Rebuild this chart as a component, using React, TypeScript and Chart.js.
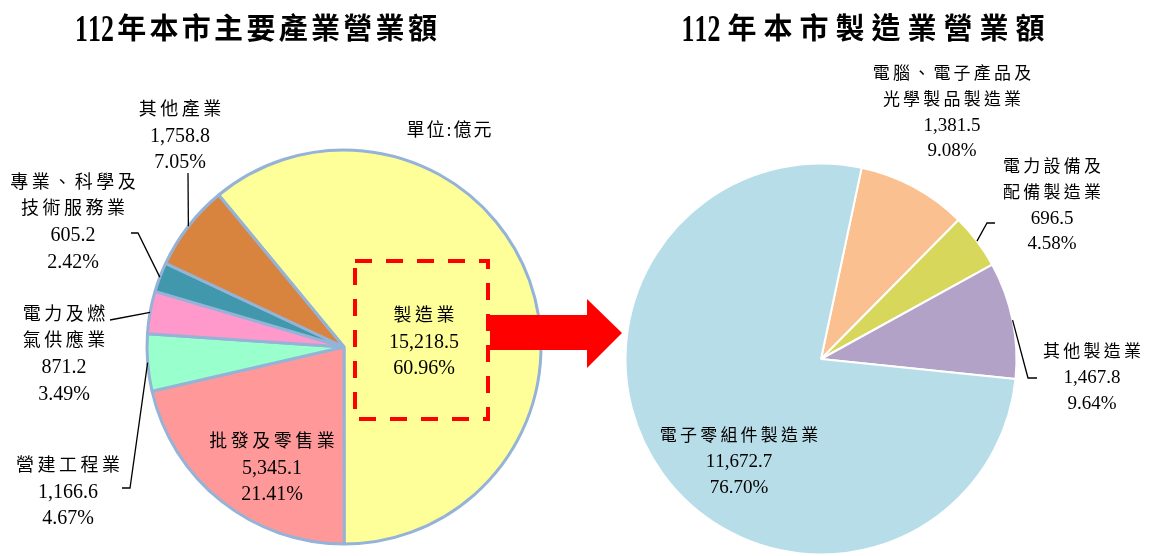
import React, { useEffect, useRef } from 'react';
import { Chart, registerables } from 'chart.js';

Chart.register(...registerables);

// ---------- data ----------
const mainCategories = ['製造業', '批發及零售業', '營建工程業', '電力及燃氣供應業', '專業、科學及技術服務業', '其他產業'];
const mainValues = [15218.5, 5345.1, 1166.6, 871.2, 605.2, 1758.8];
const mainPercents = ['60.96%', '21.41%', '4.67%', '3.49%', '2.42%', '7.05%'];
const mainLabelLines = [['製造業'], ['批發及零售業'], ['營建工程業'], ['電力及燃', '氣供應業'], ['專業、科學及', '技術服務業'], ['其他產業']];
const mainColors = ['#ffff99', '#ff9999', '#99ffcc', '#ff99cc', '#4198ad', '#d9843e'];

const mfgCategories = ['電腦、電子產品及光學製品製造業', '電力設備及配備製造業', '其他製造業', '電子零組件製造業'];
const mfgValues = [1381.5, 696.5, 1467.8, 11672.7];
const mfgPercents = ['9.08%', '4.58%', '9.64%', '76.70%'];
const mfgLabelLines = [['電腦、電子產品及', '光學製品製造業'], ['電力設備及', '配備製造業'], ['其他製造業'], ['電子零組件製造業']];
const mfgColors = ['#fac090', '#d7d75b', '#b3a2c7', '#b7dde8'];

const mainTitle = '112年本市主要產業營業額';
const mfgTitle = '112年本市製造業營業額';
const unitText = '單位:億元';

// ---------- layout ----------
type LabelPos = { x: number; y: number; leader?: number[][] };
const mainLabelLayout: LabelPos[] = [
  { x: 424, y: 316 },
  { x: 272, y: 442 },
  { x: 68, y: 466, leader: [[130, 488], [122, 488]] },
  { x: 64, y: 315, leader: [[110, 320]] },
  { x: 73, y: 183, leader: [[138, 233], [131, 233]] },
  { x: 180, y: 110, leader: [[188, 173]] },
];
const mfgLabelLayout: LabelPos[] = [
  { x: 352, y: 75 },
  { x: 452, y: 168, leader: [[387, 223], [395, 223]] },
  { x: 492, y: 353, leader: [[428, 378], [437, 378]] },
  { x: 139, y: 437 },
];

const SERIF = "'Liberation Serif', 'Noto Sans CJK TC', serif";
const fmt = new Intl.NumberFormat('en-US', { minimumFractionDigits: 1, maximumFractionDigits: 1 });

const isCJK = (c: string) => c.charCodeAt(0) > 0x2000;

function drawSpaced(ctx: CanvasRenderingContext2D, text: string, cx: number, y: number, spacing: number) {
  const chars = Array.from(text);
  const widths = chars.map((c) => ctx.measureText(c).width);
  const gaps = chars.map((c, i) => (i < chars.length - 1 && (isCJK(c) || isCJK(chars[i + 1])) ? spacing : 0));
  const total = widths.reduce((a, b) => a + b, 0) + gaps.reduce((a, b) => a + b, 0);
  let x = cx - total / 2;
  ctx.textAlign = 'left';
  ctx.textBaseline = 'middle';
  chars.forEach((c, i) => {
    ctx.fillText(c, x, y);
    x += widths[i] + gaps[i];
  });
}

// title: tall condensed digits + bold CJK
function drawTitle(ctx: CanvasRenderingContext2D, text: string, cx: number, y: number, spacing: number) {
  const chars = Array.from(text);
  const digitScale = 0.68;
  const digitFont = `bold 38px ${SERIF}`;
  const cjkFont = `bold 29px ${SERIF}`;
  const widths = chars.map((c) => {
    if (isCJK(c)) {
      ctx.font = cjkFont;
      return ctx.measureText(c).width;
    }
    ctx.font = digitFont;
    return ctx.measureText(c).width * digitScale;
  });
  const gaps = chars.map((c, i) => (i < chars.length - 1 && (isCJK(c) || isCJK(chars[i + 1])) ? spacing : 0));
  const total = widths.reduce((a, b) => a + b, 0) + gaps.reduce((a, b) => a + b, 0);
  let x = cx - total / 2;
  ctx.textAlign = 'left';
  ctx.textBaseline = 'alphabetic';
  chars.forEach((c, i) => {
    if (isCJK(c)) {
      ctx.font = cjkFont;
      ctx.fillText(c, x, y + 11);
    } else {
      ctx.font = digitFont;
      ctx.save();
      ctx.translate(x, y + 13);
      ctx.scale(digitScale, 1);
      ctx.fillText(c, 0, 0);
      ctx.restore();
    }
    x += widths[i] + gaps[i];
  });
}

function makeLabelPlugin(
  id: string,
  values: number[],
  percents: string[],
  lines: string[][],
  layout: LabelPos[],
  opts: { cjkSize: number; numSize: number; spacing: number; lineH: number; title: string; titleX: number; titleSpacing: number; extra?: (ctx: CanvasRenderingContext2D) => void }
) {
  return {
    id,
    afterDraw(chart: any) {
      const ctx: CanvasRenderingContext2D = chart.ctx;
      const meta = chart.getDatasetMeta(0);
      ctx.save();
      ctx.fillStyle = '#000';
      drawTitle(ctx, opts.title, opts.titleX, 28, opts.titleSpacing);

      if (opts.extra) opts.extra(ctx);

      // leaders
      ctx.strokeStyle = '#000';
      ctx.lineWidth = 1.3;
      ctx.setLineDash([]);
      meta.data.forEach((arc: any, i: number) => {
        const lp = layout[i];
        if (!lp.leader) return;
        const p = arc.getProps(['x', 'y', 'startAngle', 'endAngle', 'outerRadius'], true);
        const mid = (p.startAngle + p.endAngle) / 2;
        const sx = p.x + Math.cos(mid) * p.outerRadius;
        const sy = p.y + Math.sin(mid) * p.outerRadius;
        ctx.beginPath();
        ctx.moveTo(sx, sy);
        lp.leader.forEach((pt) => ctx.lineTo(pt[0], pt[1]));
        ctx.stroke();
      });

      // labels
      ctx.fillStyle = '#000';
      values.forEach((v, i) => {
        const lp = layout[i];
        let y = lp.y;
        lines[i].forEach((ln) => {
          ctx.font = `${opts.cjkSize}px ${SERIF}`;
          drawSpaced(ctx, ln, lp.x, y, opts.spacing);
          y += opts.lineH;
        });
        ctx.font = `${opts.numSize}px ${SERIF}`;
        drawSpaced(ctx, fmt.format(v), lp.x, y, 0);
        y += opts.lineH;
        drawSpaced(ctx, percents[i], lp.x, y, 0);
      });
      ctx.restore();
    },
  };
}

export default function App() {
  const leftRef = useRef<HTMLCanvasElement>(null);
  const rightRef = useRef<HTMLCanvasElement>(null);

  useEffect(() => {
    document.body.style.margin = '0';
    const leftPlugin = makeLabelPlugin('mainLabels', mainValues, mainPercents, mainLabelLines, mainLabelLayout, {
      cjkSize: 18,
      numSize: 20,
      spacing: 3.5,
      lineH: 26.5,
      title: mainTitle,
      titleX: 256,
      titleSpacing: 3.3,
      extra: (ctx) => {
        ctx.font = `18px ${SERIF}`;
        drawSpaced(ctx, unitText, 449, 131, 2);
        // dashed highlight box
        ctx.save();
        ctx.strokeStyle = '#ff0000';
        ctx.lineWidth = 4;
        ctx.setLineDash([17, 14]);
        ctx.strokeRect(355, 261, 133, 158);
        ctx.restore();
        // arrow
        ctx.save();
        ctx.fillStyle = '#ff0000';
        ctx.beginPath();
        ctx.moveTo(490, 315);
        ctx.lineTo(587, 315);
        ctx.lineTo(587, 299);
        ctx.lineTo(622, 333);
        ctx.lineTo(587, 368);
        ctx.lineTo(587, 350);
        ctx.lineTo(490, 350);
        ctx.closePath();
        ctx.fill();
        ctx.restore();
      },
    });
    const rightPlugin = makeLabelPlugin('mfgLabels', mfgValues, mfgPercents, mfgLabelLines, mfgLabelLayout, {
      cjkSize: 17,
      numSize: 19,
      spacing: 3.2,
      lineH: 25.5,
      title: mfgTitle,
      titleX: 263,
      titleSpacing: 7,
    });

    const left = new Chart(leftRef.current!, {
      type: 'pie',
      data: {
        labels: mainCategories,
        datasets: [{ data: mainValues, backgroundColor: mainColors, borderColor: '#95b3d7', borderWidth: 3 }],
      },
      options: {
        responsive: false,
        animation: false,
        rotation: -39.5,
        layout: { padding: { left: 145.5, top: 148.5, right: 97.5, bottom: 10.5 } },
        plugins: { legend: { display: false }, tooltip: { enabled: false }, title: { display: false } },
      },
      plugins: [leftPlugin],
    });

    const right = new Chart(rightRef.current!, {
      type: 'pie',
      data: {
        labels: mfgCategories,
        datasets: [{ data: mfgValues, backgroundColor: mfgColors, borderColor: '#ffffff', borderWidth: 2 }],
      },
      options: {
        responsive: false,
        animation: false,
        rotation: 12,
        layout: { padding: { left: 24.5, top: 162.5, right: 152.5, bottom: 0.5 } },
        plugins: { legend: { display: false }, tooltip: { enabled: false }, title: { display: false } },
      },
      plugins: [rightPlugin],
    });

    return () => {
      left.destroy();
      right.destroy();
    };
  }, []);

  return (
    <div style={{ position: 'relative', width: 1170, height: 556, background: '#fff', overflow: 'hidden' }}>
      <canvas ref={leftRef} width={640} height={556} style={{ position: 'absolute', left: 0, top: 0, width: 640, height: 556 }} />
      <canvas ref={rightRef} width={570} height={556} style={{ position: 'absolute', left: 600, top: 0, width: 570, height: 556 }} />
    </div>
  );
}
